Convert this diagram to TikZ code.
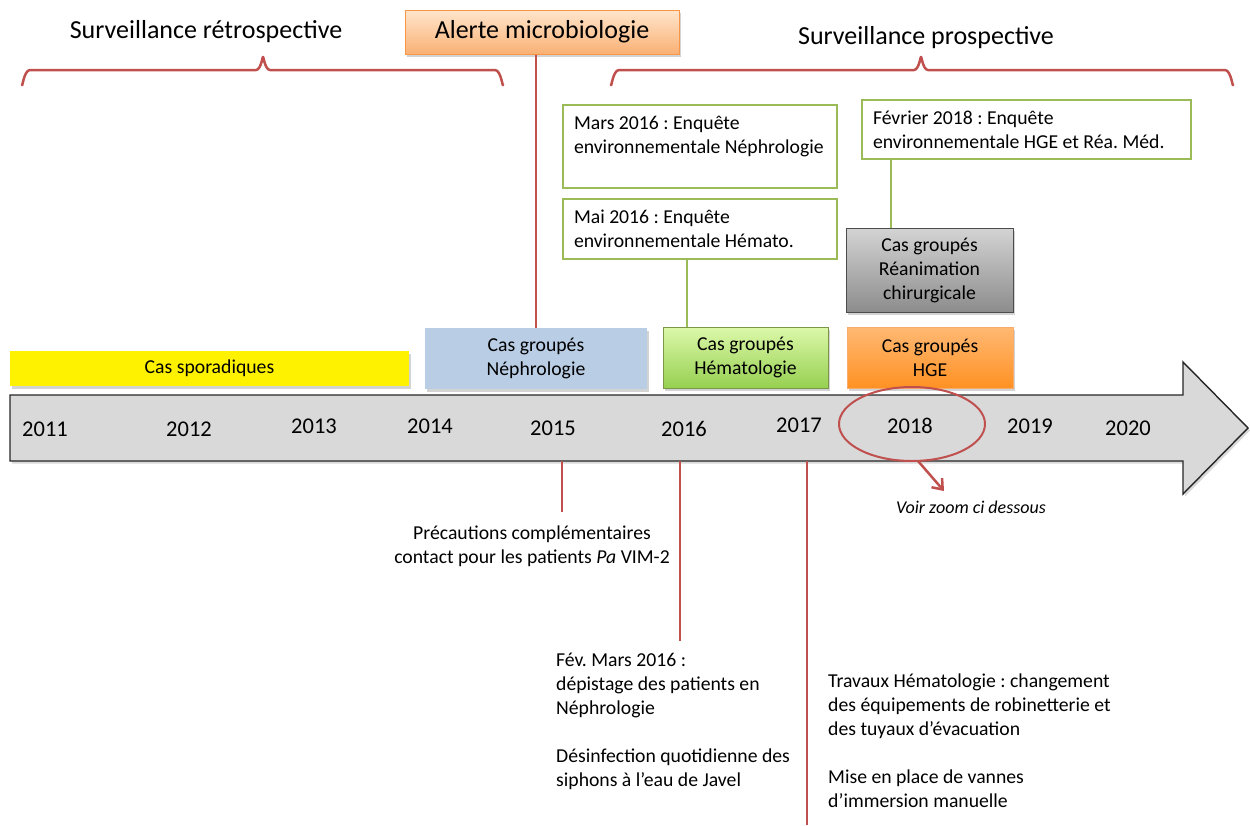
\documentclass[tikz,border=0pt]{standalone}
\usepackage{fontspec}
\setmainfont{Carlito}
\usetikzlibrary{shadows,calc,arrows.meta}
\definecolor{rl}{HTML}{C0504D}
\definecolor{gb}{HTML}{9BBB59}
\definecolor{orb}{HTML}{F79646}
\frenchspacing
\begin{document}
\begin{tikzpicture}[x=1pt,y=-1pt,
  body/.style={font=\fontsize{19.7}{24}\selectfont},
  ttl/.style={font=\fontsize{26}{30}\selectfont},
  yr/.style={font=\fontsize{22.5}{26}\selectfont},
  redline/.style={draw=rl,line width=1.2pt},
  greenline/.style={draw=gb,line width=2pt},
  brace/.style={draw=rl,line width=2.5pt,line cap=round,line join=round},
  gbox/.style={draw=gb,line width=1.2pt,fill=white,body,align=flush left,inner xsep=11pt,inner ysep=0pt},
  cbox/.style={body,align=center,inner sep=0pt,drop shadow={shadow xshift=2pt,shadow yshift=-2.5pt,opacity=0.35}},
]
\useasboundingbox (0,0) rectangle (1250,825);

% titles
\node[ttl] (tretro) at (206,32) {Surveillance rétrospective};
\node[ttl] (tpros) at (926,38) {Surveillance prospective};

% braces
\draw[brace] (22,84) to[out=-90,in=180] (30,70) -- (256,70) to[out=0,in=90] (263,58)
  to[out=90,in=180] (270,70) -- (495,70) to[out=0,in=-90] (503,84);
\draw[brace] (611,84) to[out=-90,in=180] (619,70) -- (914,70) to[out=0,in=90] (921,58)
  to[out=90,in=180] (928,70) -- (1225,70) to[out=0,in=-90] (1233,84);

% alert box
\node[cbox,ttl,draw=orb,line width=1pt,top color=orange!20!white,bottom color=orb!75!white,
  minimum width=274pt,minimum height=44pt] (alert) at (542,32) {Alerte microbiologie};

% green boxes
\node[gbox,text width=252pt,minimum height=83pt] (mars) at (700,146.5)
  {Mars 2016 : Enquête\\environnementale Néphrologie\\\mbox{}};
\node[gbox,text width=252pt,minimum height=60pt] (mai) at (700,229)
  {Mai 2016 : Enquête\\environnementale Hémato.};
\node[gbox,text width=307pt,minimum height=59pt] (fev) at (1026.5,129.5)
  {Février 2018 : Enquête\\environnementale HGE et Réa. Méd.};

% case boxes
\node[cbox,draw=black!70,line width=1pt,top color=black!17,bottom color=black!45,
  minimum width=167pt,minimum height=84pt] (grey) at (929.5,270)
  {Cas groupés\\Réanimation\\chirurgicale};
\node[cbox,fill=yellow,minimum width=399pt,minimum height=35pt] (spor) at (209.5,368.5)
  {Cas sporadiques};
\node[cbox,fill={rgb,255:red,185;green,205;blue,229},minimum width=222pt,minimum height=61pt] (neph) at (536,358.5)
  {Cas groupés\\Néphrologie};
\node[cbox,draw=gb!80!black,line width=0.6pt,top color={rgb,255:red,220;green,248;blue,170},bottom color={rgb,255:red,150;green,208;blue,80},
  minimum width=165pt,minimum height=61pt] (hema) at (745.5,357.5)
  {Cas groupés\\Hématologie};
\node[cbox,draw=orb!80!white,line width=0.6pt,top color={rgb,255:red,255;green,185;blue,115},bottom color={rgb,255:red,255;green,145;blue,35},
  minimum width=166pt,minimum height=61pt] (hge) at (930,357.5)
  {Cas groupés\\HGE};

% connectors above
\draw[redline] (alert.south -| neph.north) -- (neph.north);
\draw[greenline] ([xshift=-13pt]mai.south) -- ([xshift=-13pt]mai.south |- hema.north);
\draw[greenline] ([xshift=30pt]fev.south west) -- ([xshift=30pt]fev.south west |- grey.north);

% timeline arrow
\draw[draw=black!85,line width=1.4pt,fill=black!15,line join=miter,
  drop shadow={shadow xshift=2pt,shadow yshift=-2.5pt,opacity=0.3}]
  (10,395) -- (1183,395) -- (1183,362) -- (1248,428) -- (1183,494) -- (1183,461) -- (10,461) -- cycle;

\node[yr] (y2011) at (45,429) {2011};
\node[yr] (y2012) at (189,429) {2012};
\node[yr] (y2013) at (314,426) {2013};
\node[yr] (y2014) at (430,426) {2014};
\node[yr] (y2015) at (553,428) {2015};
\node[yr] (y2016) at (684,429) {2016};
\node[yr] (y2017) at (799,425) {2017};
\node[yr] (y2018) at (910,426) {2018};
\node[yr] (y2019) at (1030,426) {2019};
\node[yr] (y2020) at (1128,428) {2020};

% zoom circle
\draw[draw=rl,line width=2pt] (912,424) ellipse [x radius=73pt,y radius=37pt];
\coordinate (zs) at (918,461);
\coordinate (ze) at (944,491);
\draw[draw=rl,line width=2.5pt,-{Straight Barb[length=9pt,width=14pt]}] (zs) -- (ze);
\node[font=\fontsize{18}{22}\selectfont\itshape] (voir) at (971,507) {Voir zoom ci dessous};

% lower lines and texts
\node[body,align=center] (prec) at (532,546) {Précautions complémentaires\\contact pour les patients \textit{Pa} VIM-2};
\coordinate (l1a) at (562,461);
\coordinate (l1b) at (562,512);
\draw[redline] (l1a) -- (l1b);

\node[body,align=left,anchor=north west,inner sep=0pt] (fevm) at (556,653)
  {Fév. Mars 2016 :\\dépistage des patients en\\Néphrologie\\[24pt]Désinfection quotidienne des\\siphons à l’eau de Javel};
\coordinate (l2a) at (680,461);
\coordinate (l2b) at (680,641);
\draw[redline] (l2a) -- (l2b);

\node[body,align=left,anchor=north west,inner sep=0pt] (trav) at (828,674)
  {Travaux Hématologie : changement\\des équipements de robinetterie et\\des tuyaux d’évacuation\\[24pt]Mise en place de vannes\\d’immersion manuelle};
\coordinate (l3a) at (807,461);
\coordinate (l3b) at (807,825);
\draw[redline] (l3a) -- (l3b);
\end{tikzpicture}
\end{document}
